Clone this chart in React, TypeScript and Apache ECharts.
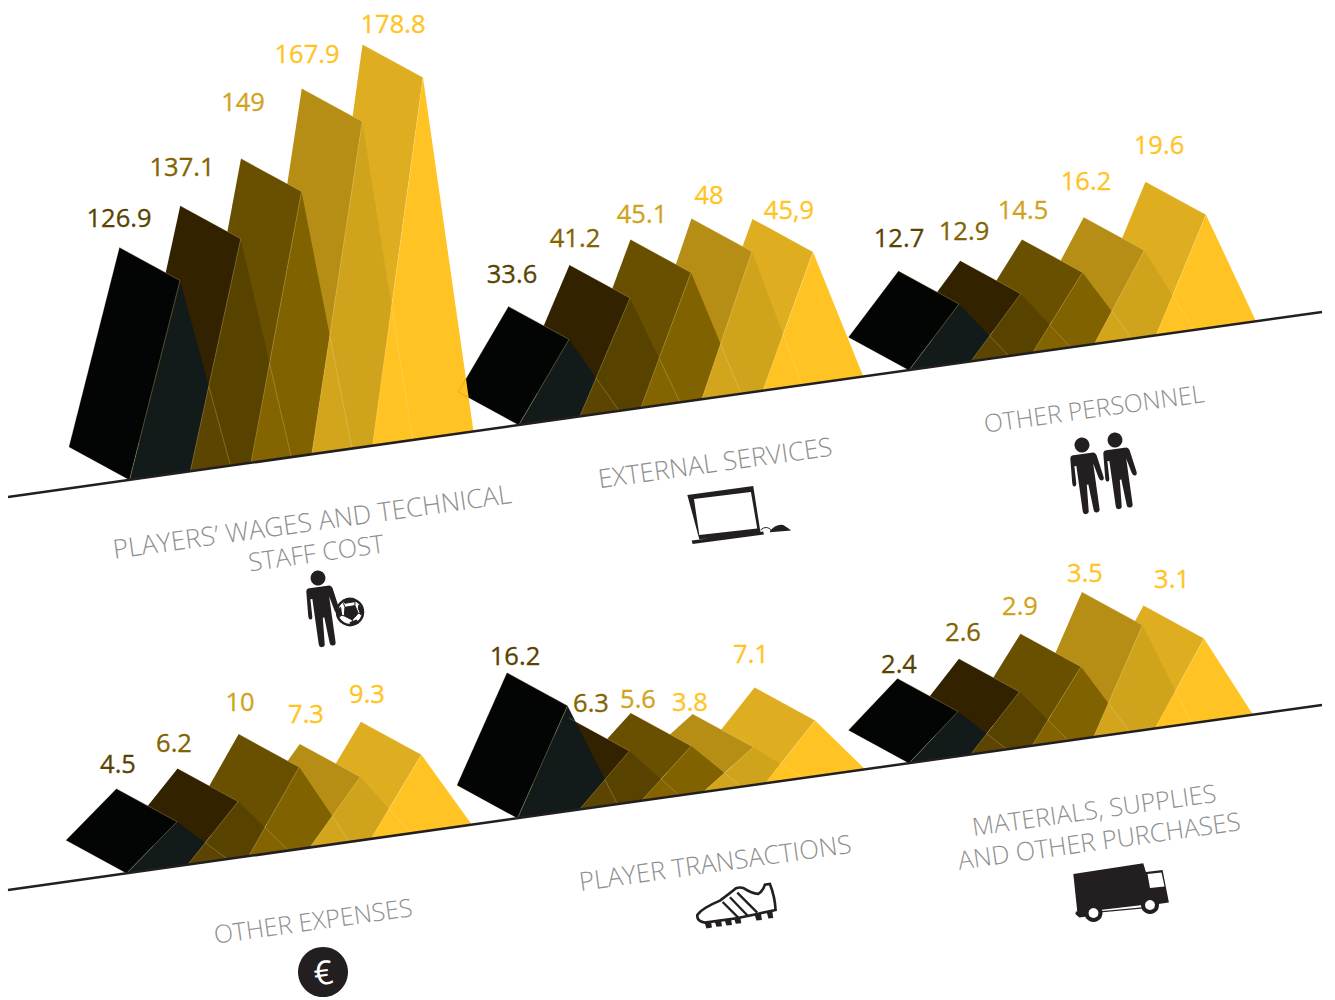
import React, { useEffect, useRef } from "react";
import * as echarts from "echarts";

// Five bars per panel; each panel is a cost heading.
const barSlots = ["1", "2", "3", "4", "5"];

const playersWages = [126.9, 137.1, 149, 167.9, 178.8];
const externalServices = [33.6, 41.2, 45.1, 48, 45.9];
const otherPersonnel = [12.7, 12.9, 14.5, 16.2, 19.6];
const otherExpenses = [4.5, 6.2, 10, 7.3, 9.3];
const playerTransactions = [16.2, 6.3, 5.6, 3.8, 7.1];
const materialsPurchases = [2.4, 2.6, 2.9, 3.5, 3.1];

const panelValues = [playersWages, externalServices, otherPersonnel, otherExpenses, playerTransactions, materialsPurchases];

// Printed value texts: one figure uses a decimal comma.
const externalServicesLabels = ["33.6", "41.2", "45.1", "48", "45,9"];
const panelLabels = [
  playersWages.map(String),
  externalServicesLabels,
  otherPersonnel.map(String),
  otherExpenses.map(String),
  playerTransactions.map(String),
  materialsPurchases.map(String),
];

// Each panel has its own truncated value axis.
const axisMins = [67.75, 15.4, 5.22, -2.04, -3.18, 1.585];
const axisMaxes = [190.8, 108, 51.73, 56.78, 70.28, 8.87];

// Panel layout along the two slanted floors.
const PANEL_HEIGHT = 400;
const floorStartX = 8;
const floorEndX = 1322;
const floorStartY = [497, 890];
const floorRise = -185;
const slope = floorRise / (floorEndX - floorStartX);
const panelRow = [0, 0, 0, 1, 1, 1];
const panelFirstMid = [180, 569, 959, 177, 567.5, 958];
const panelStep = [60.75, 61, 61.75, 61.1, 61.9, 61.5];
const panelBase = [101, 100.5, 100, 101, 100, 98];
const depth = [-60.5, -33];

// Anchor of each printed value.
const labelSpots = [
  [[119, 217], [182, 166], [243, 101], [307, 53], [393, 23]],
  [[512, 273], [575, 237], [642, 213], [709, 194], [789, 209]],
  [[899, 237], [964, 230], [1023, 209], [1086, 180], [1159, 144]],
  [[118, 763], [174, 742], [240, 701], [306, 713], [367, 693]],
  [[515, 655], [591, 702], [638, 698], [690, 701], [751, 653]],
  [[899, 663], [963, 631], [1020, 605], [1085, 572], [1172, 578]],
];

const faceColors = ["#020504", "#332200", "#695000", "#b68e16", "#dfad20"];
const sideColors = ["#121b1a", "#584200", "#806200", "#d0a31d", "#ffc423"];
const overlapColors = ["#5c4500", "#836400", "#d3a51d", "#ffc423"];
const labelColors = ["#584200", "#836300", "#d0a31d", "#ffc423", "#ffc423"];
const hairline = "rgba(255,235,180,0.4)";
const ink = "#231f20";
const titleGray = "#8f8f8f";
const tilt = Math.atan(-slope);

const titles: [string, number, number, number][] = [
  ["PLAYERS’ WAGES AND TECHNICAL", 312, 521, 26.3],
  ["STAFF COST", 316, 552, 25.4],
  ["EXTERNAL SERVICES", 715, 462, 26],
  ["OTHER PERSONNEL", 1094, 408, 24.8],
  ["OTHER EXPENSES", 313, 920, 25],
  ["PLAYER TRANSACTIONS", 715, 862, 25.8],
  ["MATERIALS, SUPPLIES", 1094, 809, 25.1],
  ["AND OTHER PURCHASES", 1099, 840, 25.5],
];

const floorY = (row: number, x: number) => floorStartY[row] + slope * (x - floorStartX);

// Icon outlines, drawn on a 3x working grid.
echarts.graphic.registerShape(
  "iconPerson",
  echarts.graphic.extendPath(
    "M-7.5 0 A7.5 7.5 0 1 1 7.5 0 A7.5 7.5 0 1 1 -7.5 0 Z M-10 9 L10 9 Q12 9 13 12 L17 35 Q17 38 15 38 Q13 38 12 35 L8.5 20 L8.5 66 Q8.5 69 5.5 69 Q2.5 69 2.5 66 L0.8 40 L-0.8 40 L-2.5 66 Q-2.5 69 -5.5 69 Q-8.5 69 -8.5 66 L-8.5 20 L-10.5 20 L-11 37 Q-11 40 -13 40 Q-15 40 -15 37 L-13.5 12 Q-13 9 -10 9 Z",
    {}
  )
);
echarts.graphic.registerShape(
  "iconBallPatches",
  echarts.graphic.extendPath(
    "M165 142 L195 137 L205 160 L187 180 L163 168 Z M160 120 L190 115 L195 125 L165 130 Z M207 135 L220 150 L213 165 L205 145 Z M180 188 L200 180 L205 190 L185 197 Z M142 150 L152 142 L155 165 L148 172 Z M165 142 L160 128 M195 137 L195 124 M205 160 L213 162 M187 180 L188 190 M163 168 L152 165",
    {}
  )
);
echarts.graphic.registerShape(
  "iconLaptop",
  echarts.graphic.extendPath(
    "M52 75 L250 48 L272 190 L88 208 Z M72 87 L88 195 L262 176 L243 66 Z M65 212 L280 185 L282 194 L68 222 Z M300 183 Q320 160 340 165 Q352 172 364 182 L300 187 Z",
    {}
  )
);
echarts.graphic.registerShape(
  "iconCable",
  echarts.graphic.extendPath("M272 180 Q290 164 306 182", {})
);
echarts.graphic.registerShape(
  "iconBoot",
  echarts.graphic.extendPath(
    "M52 135 Q65 115 120 92 Q150 70 168 55 Q180 50 192 55 Q215 70 235 72 Q250 62 255 44 L270 42 Q285 80 287 120 L232 132 L170 145 L75 158 Q50 155 52 135 Z",
    {}
  )
);
echarts.graphic.registerShape(
  "iconBootDetail",
  echarts.graphic.extendPath(
    "M128 96 L178 146 M150 82 L204 138 M172 68 L232 128 M78 160 L82 172 L92 170 L90 158 Z M108 155 L112 167 L122 166 L120 153 Z M138 151 L142 163 L152 162 L150 149 Z M166 146 L170 158 L180 157 L178 145 Z M228 135 L232 148 L242 147 L240 133 Z M264 127 L268 142 L276 141 L274 125 Z",
    {}
  )
);
echarts.graphic.registerShape(
  "iconTruck",
  echarts.graphic.extendPath(
    "M40 72 L250 40 L258 66 L308 60 L327 158 L290 163 L285 148 L255 150 L248 165 L120 180 L52 186 Z M48 185 L80 182 L80 200 L58 203 L46 192 Z M120 184 L250 172 L250 176 L120 188 Z",
    {}
  )
);

type Kind = "faces" | "sides" | "outline";

function barPoints(api: any, panel: number, k: number, value: number) {
  const top = api.coord([k, value]);
  const floor = api.coord([k, axisMins[panel]]);
  const half = panelBase[panel] / 2;
  const band = api.size([1, 0])[0];
  const leftEdge = floor[0] - (k + 0.5) * band;
  const lift = (x: number) => slope * (x - leftEdge);
  const mid = top[0];
  const T = [mid, top[1] + lift(mid)];
  const P = [mid - half, floor[1] + lift(mid - half)];
  const R = [mid + half, floor[1] + lift(mid + half)];
  const A = [T[0] + depth[0], T[1] + depth[1]];
  const L = [P[0] + depth[0], P[1] + depth[1]];
  return { T, P, R, A, L };
}

// Where the two slanted edges of neighbouring bars cross.
function crossing(a: number[], b: number[], c: number[], d: number[]) {
  const den = (a[0] - b[0]) * (c[1] - d[1]) - (a[1] - b[1]) * (c[0] - d[0]);
  const u = ((a[0] - c[0]) * (c[1] - d[1]) - (a[1] - c[1]) * (c[0] - d[0])) / den;
  return [a[0] + u * (b[0] - a[0]), a[1] + u * (b[1] - a[1])];
}

const edge = (a: number[], b: number[]) => ({
  type: "line",
  shape: { x1: a[0], y1: a[1], x2: b[0], y2: b[1] },
  style: { stroke: hairline, lineWidth: 0.6, fill: "none" },
});

function renderBar(panel: number, kind: Kind) {
  return (_params: any, api: any) => {
    const k = api.value(0);
    const values = panelValues[panel];
    const { T, P, R, A, L } = barPoints(api, panel, k, api.value(1));
    if (kind === "faces") {
      return {
        type: "polygon",
        shape: { points: [A, T, P, L] },
        style: { fill: faceColors[k] },
      };
    }
    if (kind === "outline") {
      return {
        type: "polygon",
        shape: { points: [A, T, P, L] },
        style: { fill: "none", stroke: "rgba(110,85,0,0.4)", lineWidth: 0.5 },
      };
    }
    const children: any[] = [
      { type: "polygon", shape: { points: [P, T, R] }, style: { fill: sideColors[k] } },
    ];
    if (k > 0) {
      const prev = barPoints(api, panel, k - 1, values[k - 1]);
      const X = crossing(P, T, prev.T, prev.R);
      children.push({
        type: "polygon",
        shape: { points: [P, X, prev.R] },
        style: { fill: overlapColors[k - 1] },
      });
      children.push(edge(X, prev.R));
    }
    children.push(edge(P, T));
    children.push(edge(A, T));
    const spot = labelSpots[panel][k];
    children.push({
      type: "text",
      style: {
        x: spot[0],
        y: spot[1],
        text: panelLabels[panel][k],
        fill: labelColors[k],
        fontSize: 25.5,
        fontFamily: '"Open Sans"',
        stroke: labelColors[k],
        lineWidth: 0.3,
        align: "center",
        verticalAlign: "middle",
      },
    });
    return { type: "group", children };
  };
}

function barSeries(panel: number, kind: Kind) {
  const rows = panelValues[panel].map((v, k) => [k, v]);
  const data = kind === "faces" ? [...rows].reverse() : kind === "outline" ? rows.slice(0, 1) : rows;
  return {
    type: "custom",
    coordinateSystem: "cartesian2d",
    xAxisIndex: panel,
    yAxisIndex: panel,
    clip: false,
    silent: true,
    encode: { x: 0, y: 1 },
    data,
    renderItem: renderBar(panel, kind),
  };
}

function buildOption() {
  const grid = panelValues.map((_, p) => {
    const left = panelFirstMid[p] - panelStep[p] / 2;
    return {
      left,
      width: panelStep[p] * barSlots.length,
      top: floorY(panelRow[p], left) - PANEL_HEIGHT,
      height: PANEL_HEIGHT,
    };
  });
  const xAxis = panelValues.map((_, p) => ({ type: "category", gridIndex: p, show: false, data: barSlots }));
  const yAxis = panelValues.map((_, p) => ({
    type: "value",
    gridIndex: p,
    show: false,
    min: axisMins[p],
    max: axisMaxes[p],
  }));
  // Panels further right sit behind their left neighbour.
  const paintOrder = [2, 1, 0, 5, 4, 3];
  const series = [
    ...paintOrder.flatMap((p) => [barSeries(p, "faces"), barSeries(p, "sides")]),
    ...paintOrder.map((p) => barSeries(p, "outline")),
  ];

  const floors = [0, 1].map((row) => ({
    type: "line",
    z: 50,
    shape: { x1: floorStartX, y1: floorStartY[row], x2: floorEndX, y2: floorStartY[row] + floorRise },
    style: { stroke: ink, lineWidth: 2.5 },
  }));
  const titleTexts = titles.map(([text, x, y, size]) => ({
    type: "text",
    x,
    y,
    rotation: tilt,
    z: 50,
    style: {
      text,
      fill: titleGray,
      fontSize: size,
      fontWeight: 300,
      fontFamily: '"Open Sans"',
      align: "center",
      verticalAlign: "middle",
    },
  }));
  const person = (x: number, y: number) => ({
    type: "iconPerson",
    x,
    y,
    rotation: tilt,
    z: 50,
    style: { fill: ink },
  });
  const traced = (type: string, x: number, y: number, style: any) => ({
    type,
    x,
    y,
    scaleX: 1 / 3,
    scaleY: 1 / 3,
    z: 50,
    style,
  });
  const icons: any[] = [
    person(318, 578),
    { type: "circle", z: 50, shape: { cx: 350, cy: 612, r: 13 }, style: { fill: "#fff", stroke: ink, lineWidth: 2.5 } },
    traced("iconBallPatches", 290, 560, { fill: ink, stroke: ink, lineWidth: 3 }),
    traced("iconLaptop", 670, 470, { fill: ink, fillRule: "evenodd" }),
    traced("iconCable", 670, 470, { fill: "none", stroke: ink, lineWidth: 3 }),
    person(1082, 445),
    person(1115, 440),
    traced("iconBoot", 680, 870, { fill: "#fff", stroke: ink, lineWidth: 8 }),
    traced("iconBootDetail", 680, 870, { fill: ink, stroke: ink, lineWidth: 7 }),
    traced("iconTruck", 1060, 850, { fill: ink }),
    { type: "polygon", z: 51, shape: { points: [[1147.5, 874], [1161.5, 872.5], [1164.5, 886.5], [1150, 888]] }, style: { fill: "#fff" } },
    { type: "circle", z: 51, shape: { cx: 1093.5, cy: 913, r: 7 }, style: { fill: "#fff", stroke: ink, lineWidth: 4 } },
    { type: "circle", z: 51, shape: { cx: 1150, cy: 905, r: 7 }, style: { fill: "#fff", stroke: ink, lineWidth: 4 } },
    { type: "circle", z: 50, shape: { cx: 323, cy: 972, r: 25 }, style: { fill: ink } },
    {
      type: "text",
      x: 323,
      y: 972,
      rotation: tilt,
      z: 51,
      style: {
        text: "€",
        fill: "#fff",
        fontSize: 33,
        fontWeight: 400,
        fontFamily: '"Open Sans"',
        align: "center",
        verticalAlign: "middle",
      },
    },
  ];

  return {
    animation: false,
    backgroundColor: "#ffffff",
    grid,
    xAxis,
    yAxis,
    series,
    graphic: { elements: [...floors, ...titleTexts, ...icons] },
  };
}

export default function App() {
  const ref = useRef<HTMLDivElement>(null);
  useEffect(() => {
    const chart = echarts.init(ref.current!, null, { renderer: "svg" });
    chart.setOption(buildOption() as any);
    return () => chart.dispose();
  }, []);
  return <div ref={ref} style={{ position: "absolute", left: 0, top: 0, width: 1335, height: 1000 }} />;
}
